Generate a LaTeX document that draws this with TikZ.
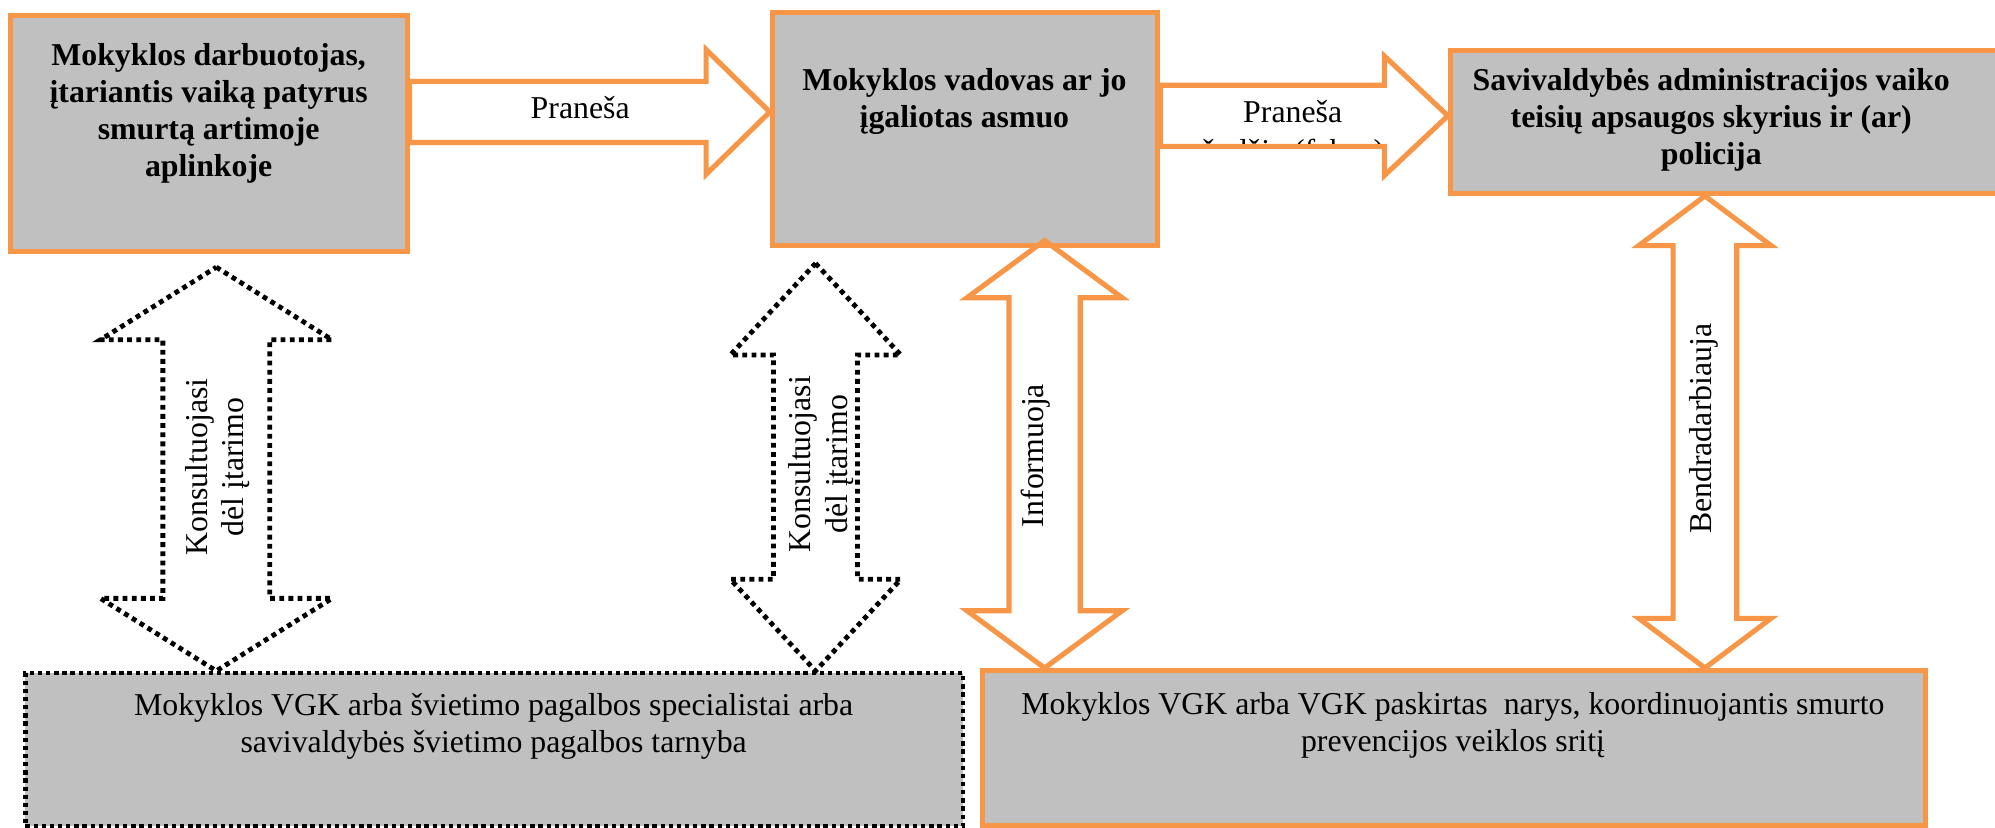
\documentclass[tikz,border=0pt]{standalone}
\usepackage{fontspec}
\setmainfont{Liberation Serif}
\usetikzlibrary{calc}
\definecolor{boxorange}{HTML}{F79646}
\definecolor{boxgray}{HTML}{C0C0C0}

% block arrows: #1 style, #2 start/top, #3 tip/bottom, #4 shaft half, #5 head half, #6 head length
\newcommand{\hblock}[6]{%
  \draw[#1] ($(#2)+(0,-#4)$) -- ($(#3)+(-#6,-#4)$) -- ($(#3)+(-#6,-#5)$) -- (#3)
    -- ($(#3)+(-#6,#5)$) -- ($(#3)+(-#6,#4)$) -- ($(#2)+(0,#4)$) -- cycle;}
\newcommand{\vblock}[6]{%
  \draw[#1] (#2) -- ($(#2)+(#5,#6)$) -- ($(#2)+(#4,#6)$) -- ($(#3)+(#4,-#6)$)
    -- ($(#3)+(#5,-#6)$) -- (#3) -- ($(#3)+(-#5,-#6)$) -- ($(#3)+(-#4,-#6)$)
    -- ($(#2)+(-#4,#6)$) -- ($(#2)+(-#5,#6)$) -- cycle;}

\begin{document}
\begin{tikzpicture}[x=0.5pt, y=-0.5pt,
    orangebox/.style={draw=boxorange, line width=2pt, fill=boxgray, inner sep=0pt},
    dotbox/.style={draw=black, line width=1.7pt, dash pattern=on 1.7pt off 1.5pt, fill=boxgray, inner sep=0pt},
    orangearrow/.style={draw=boxorange, line width=2pt, line join=miter},
    dotarrow/.style={draw=black, line width=1.9pt, dash pattern=on 1.9pt off 1.7pt},
    boldtxt/.style={font=\fontsize{12.5}{14.5}\selectfont\bfseries, align=center, inner sep=0pt},
    txt/.style={font=\fontsize{12.5}{14.5}\selectfont, align=center, inner sep=0pt}]
  \clip (0,0) rectangle (1568,650);

  % boxes
  \node[orangebox, minimum width=156pt, minimum height=93pt] (A) at (164,105) {};
  \node[orangebox, minimum width=151.5pt, minimum height=91.5pt] (B) at (758.5,101.5) {};
  \node[orangebox, minimum width=230pt, minimum height=56pt] (C) at (1370,96) {};
  \node[dotbox, minimum width=368.5pt, minimum height=60pt] (D) at (388.5,589) {};
  \node[orangebox, minimum width=370.5pt, minimum height=61pt] (E) at (1142.5,588) {};

  \node[boldtxt] (Atext) at (164,89) {Mokyklos darbuotojas,\\įtariantis vaiką patyrus\\smurtą artimoje\\aplinkoje};
  \node[boldtxt] (Btext) at (758,80) {Mokyklos vadovas ar jo\\įgaliotas asmuo};
  \node[boldtxt] (Ctext) at (1345,94) {Savivaldybės administracijos vaiko\\teisių apsaugos skyrius ir (ar)\\policija};
  \node[txt] (Dtext) at (388,571) {Mokyklos VGK arba švietimo pagalbos specialistai arba\\savivaldybės švietimo pagalbos tarnyba};
  \node[txt] (Etext) at (1142,570) {Mokyklos VGK arba VGK paskirtas\ \ narys, koordinuojantis smurto\\prevencijos veiklos sritį};

  % arrows
  \coordinate (AB s) at (A.east |- 0,88);
  \coordinate (AB t) at (B.west |- 0,88);
  \coordinate (BC s) at (B.east |- 0,91);
  \coordinate (BC t) at (C.west |- 0,91);
  \hblock{orangearrow}{AB s}{AB t}{24}{49}{50}
  \hblock{orangearrow}{BC s}{BC t}{24}{47}{50}

  \coordinate (K1 t) at (170,210);
  \coordinate (K1 b) at (170,0 |- D.north);
  \coordinate (K2 t) at (641,207);
  \coordinate (K2 b) at (641,0 |- D.north);
  \coordinate (I t) at (821,189);
  \coordinate (I b) at (821,0 |- E.north);
  \coordinate (S t) at (1340,0 |- C.south);
  \coordinate (S b) at (1340,0 |- E.north);
  \vblock{dotarrow}{K1 t}{K1 b}{42}{91}{57}
  \vblock{dotarrow}{K2 t}{K2 b}{33}{67}{72}
  \vblock{orangearrow}{I t}{I b}{28}{61}{45}
  \vblock{orangearrow}{S t}{S b}{25}{52}{39}

  % arrow labels
  \node[txt, anchor=base] (ABlbl) at (456,93) {Praneša};
  \node[txt, anchor=base] (BClbl) at (1016,96) {Praneša};
  \begin{scope}
    \clip ($(BC s)+(2,-22)$) rectangle ($(BC t)+(-52,22)$);
    \node[txt, anchor=base] (BClbl2) at (1016,127) {žodžiu (faksu)};
  \end{scope}
  \node[txt, rotate=90] (K1lbl) at (171,367) {Konsultuojasi\\dėl įtarimo};
  \node[txt, rotate=90] (K2lbl) at (645,365) {Konsultuojasi\\dėl įtarimo};
  \node[txt, rotate=90] (Ilbl) at (814,358) {Informuoja};
  \node[txt, rotate=90] (Slbl) at (1339,337) {Bendradarbiauja};
\end{tikzpicture}
\end{document}
